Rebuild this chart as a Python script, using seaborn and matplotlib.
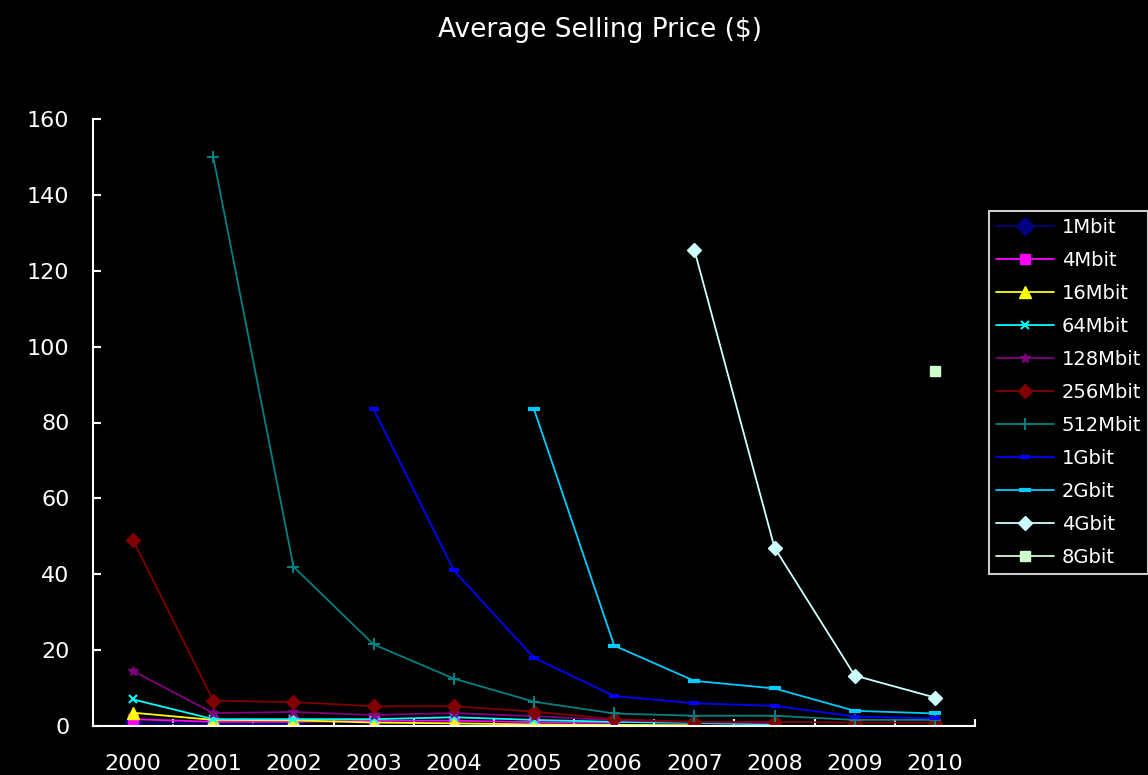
import numpy as np
import pandas as pd
import matplotlib
matplotlib.use("Agg")
import matplotlib.pyplot as plt
import seaborn as sns

nan = np.nan
years = ["2000", "2001", "2002", "2003", "2004", "2005",
         "2006", "2007", "2008", "2009", "2010"]

# Average selling price per density, in dollars (NaN = not shipping)
mbit1 = [0.8, 0.5, 0.5, nan, nan, nan, nan, nan, nan, nan, nan]
mbit4 = [1.8, 1.1, 1.1, 1.4, 1.4, 1.0, 0.9, nan, nan, nan, nan]
mbit16 = [3.5, 1.6, 1.5, 0.9, 0.7, 0.4, 0.3, 0.2, nan, nan, nan]
mbit64 = [7.0, 1.8, 1.8, 1.8, 2.3, 1.6, 1.1, 0.8, 0.4, nan, nan]
mbit128 = [14.5, 3.4, 3.7, 2.9, 3.4, 2.6, 1.5, 1.0, 0.8, nan, nan]
mbit256 = [49.0, 6.7, 6.3, 5.2, 5.2, 3.8, 1.8, 1.1, 1.1, 0.9, 0.9]
mbit512 = [nan, 150.0, 42.0, 21.5, 12.5, 6.4, 3.3, 2.7, 2.7, 1.6, 1.6]
gbit1 = [nan, nan, nan, 83.5, 41.0, 18.0, 7.9, 6.0, 5.3, 2.5, 2.0]
gbit2 = [nan, nan, nan, nan, nan, 83.5, 21.2, 11.9, 9.9, 4.0, 3.3]
gbit4 = [nan, nan, nan, nan, nan, nan, nan, 125.5, 47.0, 13.3, 7.5]
gbit8 = [nan, nan, nan, nan, nan, nan, nan, nan, nan, nan, 93.5]

series_names = ["1Mbit", "4Mbit", "16Mbit", "64Mbit", "128Mbit", "256Mbit",
                "512Mbit", "1Gbit", "2Gbit", "4Gbit", "8Gbit"]
series_values = [mbit1, mbit4, mbit16, mbit64, mbit128, mbit256,
                 mbit512, gbit1, gbit2, gbit4, gbit8]

colors = ["#000080", "#FF00FF", "#FFFF00", "#00FFFF", "#800080", "#800000",
          "#008080", "#0000FF", "#00CCFF", "#CCFFFF", "#CCFFCC"]
markers = ["D", "s", "^", "x", "*", "D", "+", "_", "_", "D", "s"]
msizes = [9, 7, 8, 6, 7, 7, 8, 7, 8, 7, 7]
medges = [1, 1, 1, 1.5, 1, 1, 1.5, 3, 3, 1, 1]

rows = []
for name, vals in zip(series_names, series_values):
    for i, v in enumerate(vals):
        if not np.isnan(v):
            rows.append({"series": name, "pos": i, "year": years[i], "price": v})
df = pd.DataFrame(rows)

sns.set_theme(style="white")
plt.rcParams["font.family"] = ["DejaVu Sans"]

fig = plt.figure(figsize=(11.48, 7.75), dpi=100, facecolor="black")
ax = fig.add_axes([93 / 1148, 1 - 726 / 775, (975 - 93) / 1148, (726 - 119) / 775])
ax.set_facecolor("black")

for name, color, mk, ms, mew in zip(series_names, colors, markers, msizes, medges):
    sub = df[df["series"] == name]
    sns.lineplot(data=sub, x="pos", y="price", ax=ax, color=color,
                 marker=mk, markersize=ms, markeredgecolor=color,
                 markeredgewidth=mew, linewidth=1.3, label=name,
                 legend=False, sort=False)

ax.set_xlim(-0.5, 10.5)
ax.set_ylim(0, 160)
ax.set_yticks(np.arange(0, 161, 20))
ax.set_xticks(range(len(years)))
ax.set_xticklabels(years)
ax.set_xticks(np.arange(-0.5, 10.6, 1.0), minor=True)
ax.set_xlabel("")
ax.set_ylabel("")

for side in ("top", "right"):
    ax.spines[side].set_visible(False)
for side in ("left", "bottom"):
    ax.spines[side].set_color("white")
    ax.spines[side].set_linewidth(1.5)

ax.tick_params(axis="y", direction="in", length=6, width=1.5, colors="white",
               labelsize=16, pad=17, left=True)
ax.tick_params(axis="x", which="major", length=0, colors="white",
               labelsize=16, pad=20, bottom=True)
ax.tick_params(axis="x", which="minor", direction="in", length=5, width=1.5,
               color="white", bottom=True)

fig.text(600 / 1148, 1 - 30 / 775, "Average Selling Price ($)", color="white",
         fontsize=19, ha="center", va="center")

handles, labels = ax.get_legend_handles_labels()
leg = fig.legend(handles, labels, loc="upper left",
                 bbox_to_anchor=(989 / 1148, 1 - 211 / 775),
                 frameon=True, facecolor="black", edgecolor="white",
                 fontsize=14, labelcolor="white", handlelength=3.0,
                 handletextpad=0.4, labelspacing=0.72, borderpad=0.35,
                 borderaxespad=0, fancybox=False)
leg.get_frame().set_linewidth(1.5)

fig.savefig("out.png", dpi=100, facecolor="black")
